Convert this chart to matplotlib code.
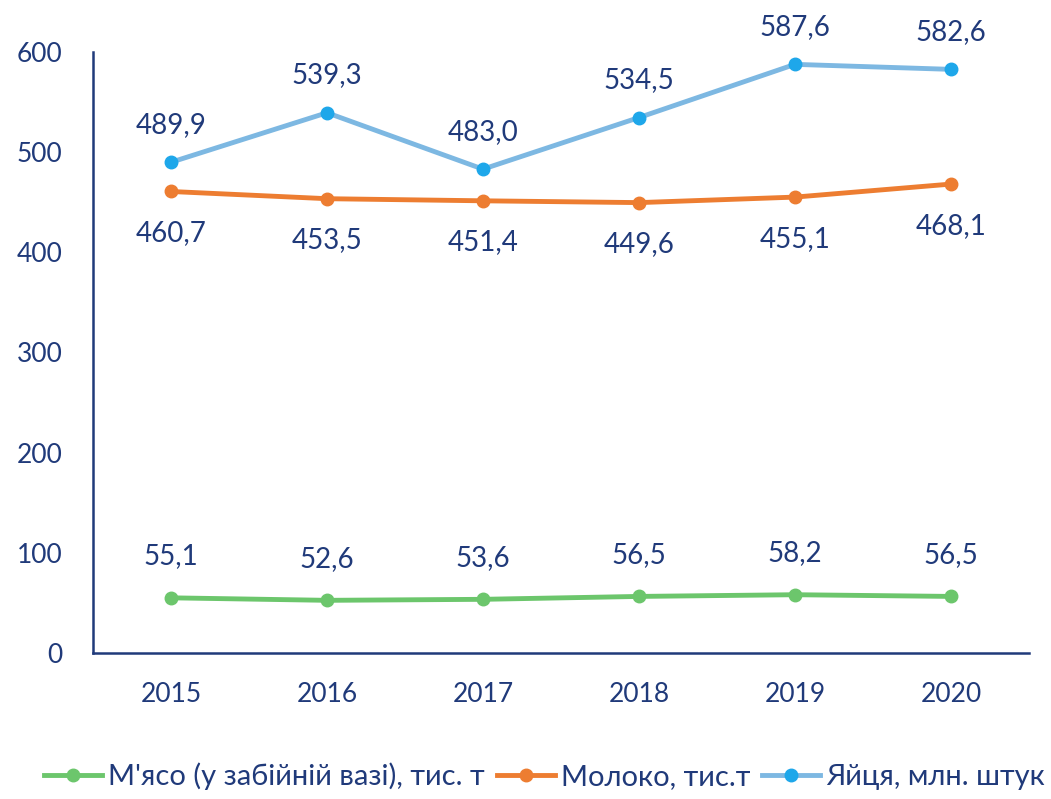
import matplotlib.pyplot as plt

years = ["2015", "2016", "2017", "2018", "2019", "2020"]
meat = [55.1, 52.6, 53.6, 56.5, 58.2, 56.5]
milk = [460.7, 453.5, 451.4, 449.6, 455.1, 468.1]
eggs = [489.9, 539.3, 483.0, 534.5, 587.6, 582.6]

navy = "#203a7a"
plt.rcParams['font.family'] = ['Lato', 'DejaVu Sans']

fig = plt.figure(figsize=(10.51, 7.99), dpi=100)
ax = fig.add_axes([0.0885, 0.1827, 0.8905, 0.7523])
x = list(range(len(years)))

series = [
    (meat, "#6cc66c", "#6cc66c", "М'ясо (у забійній вазі), тис. т", 30),
    (milk, "#ed7d31", "#ed7d31", "Молоко, тис.т", -30),
    (eggs, "#7db8e2", "#1ea7ea", "Яйця, млн. штук", 27),
]
for vals, col, mcol, label, off in series:
    ax.plot(x, vals, color=col, lw=3.5, marker='o', ms=9, mfc=mcol, mec=mcol,
            label=label)
    for xi, v in zip(x, vals):
        txt = f"{v:.1f}".replace('.', ',')
        ax.annotate(txt, (xi, v), xytext=(0, off), textcoords='offset points',
                    ha='center', va='center', fontsize=20, color=navy)

ax.set_xlim(-0.5, 5.5)
ax.set_ylim(0, 600)
ax.set_yticks(range(0, 601, 100))
ax.set_xticks(x)
ax.set_xticklabels(years)
ax.tick_params(axis='y', length=0, labelsize=19, labelcolor=navy, pad=22)
ax.tick_params(axis='x', length=0, labelsize=19, labelcolor=navy, pad=21)
for s in ['top', 'right']:
    ax.spines[s].set_visible(False)
for s in ['left', 'bottom']:
    ax.spines[s].set_color(navy)
    ax.spines[s].set_linewidth(1.8)

fig.legend(loc='lower center', bbox_to_anchor=(0.518, -0.022), ncol=3, frameon=False,
           fontsize=21, labelcolor=navy, handlelength=2.0, columnspacing=0.4,
           handletextpad=0.2)

fig.savefig("out.png", dpi=100)
